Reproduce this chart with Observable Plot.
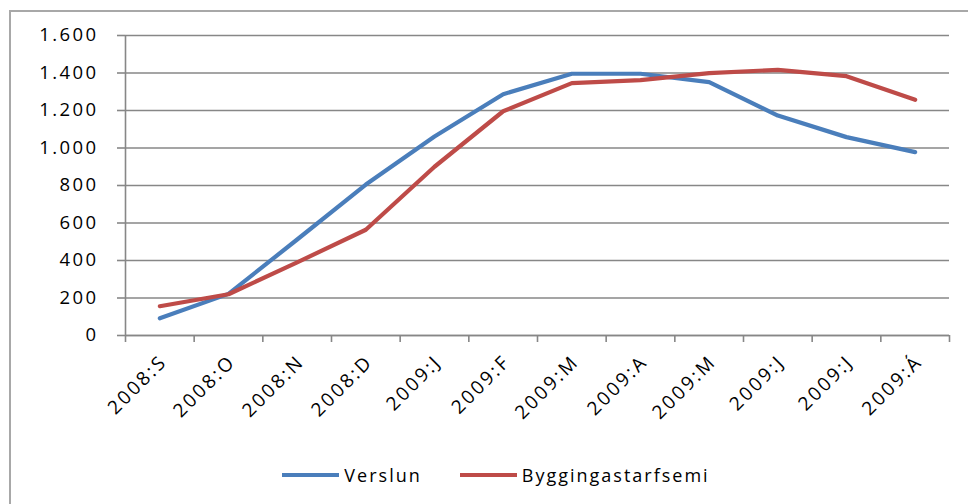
<!DOCTYPE html>
<html>
<head>
<meta charset="utf-8">
<script src="https://cdn.jsdelivr.net/npm/d3@7"></script>
<script src="https://cdn.jsdelivr.net/npm/@observablehq/plot@0.6"></script>
<style>
  html, body { margin: 0; padding: 0; background: #fff; }
  #wrap { position: relative; width: 968px; height: 504px; overflow: hidden; }
  #border { position: absolute; left: 9px; top: 10px; width: 980px; height: 520px;
            border-left: 2px solid #a8a8a8; border-top: 2px solid #a8a8a8; box-sizing: border-box; }
  #chart { position: absolute; left: 0; top: 0; }
  #chart svg text { font-family: "Open Sans", sans-serif; fill: #000; }
  #chart svg .yax text { font-size: 18.5px; letter-spacing: 2.4px; }
  #chart svg .xlab text { font-size: 19px; letter-spacing: 2.6px; }
  #legend { position: absolute; top: 463px; left: 24px; width: 944px; display: flex; justify-content: center;
            font-family: "Open Sans", sans-serif; font-size: 18px; letter-spacing: 2px; color: #000; }
  .item { display: flex; align-items: center; margin: 0 19px; }
  .sw { width: 57px; height: 4px; margin-right: 5px; }
</style>
</head>
<body>
<div id="wrap">
  <div id="border"></div>
  <div id="chart"></div>
  <div id="legend"></div>
</div>
<script>
const categories = ["2008:S","2008:O","2008:N","2008:D","2009:J","2009:F","2009:M","2009:A","2009:M","2009:J","2009:J","2009:Á"];
const verslun = [92, 222, 512, 805, 1061, 1287, 1396, 1396, 1351, 1173, 1058, 978];
const bygging = [156, 220, 390, 564, 900, 1196, 1346, 1362, 1399, 1417, 1383, 1257];
const seriesNames = ["Verslun", "Byggingastarfsemi"];
const seriesColors = ["#4a7ebb", "#be4b48"];
const yTicks = [0, 200, 400, 600, 800, 1000, 1200, 1400, 1600];

const rows = [];
[verslun, bygging].forEach((vals, s) => vals.forEach((v, i) => rows.push({i, pos: i + 0.5, value: v, series: seriesNames[s]})));

const locale = d3.formatLocale({decimal: ",", thousands: ".", grouping: [3], currency: ["", ""]});
const fmt = locale.format(",");
const boundaries = d3.range(categories.length + 1);
const centers = categories.map((c, i) => i + 0.5);

const chart = Plot.plot({
  width: 968,
  height: 504,
  marginLeft: 125,
  marginRight: 19,
  marginTop: 35,
  marginBottom: 169,
  style: {fontFamily: "'Open Sans', sans-serif", fontSize: "18px", color: "#000", background: "transparent"},
  x: {type: "linear", domain: [0, categories.length]},
  y: {domain: [0, 1600]},
  color: {domain: seriesNames, range: seriesColors},
  marks: [
    Plot.gridY(yTicks, {stroke: "#878787", strokeOpacity: 1, strokeWidth: 1.6}),
    Plot.axisY(yTicks, {tickSize: 8, tickPadding: 19, tickFormat: fmt, stroke: "#878787", strokeWidth: 1.6, label: null, className: "yax"}),
    Plot.ruleX([0], {stroke: "#878787", strokeWidth: 1.6}),
    Plot.ruleY([0], {stroke: "#878787", strokeWidth: 1.6}),
    Plot.axisX(boundaries, {tickSize: 7, tickFormat: () => "", stroke: "#878787", strokeWidth: 1.6, label: null}),
    Plot.axisX(centers, {tickSize: 0, tickPadding: 23, dx: 4, tickRotate: -45, tickFormat: (d) => categories[Math.floor(d)], label: null, className: "xlab"}),
    Plot.line(rows, {x: "pos", y: "value", z: "series", stroke: "series", strokeWidth: 4.2, strokeLinejoin: "round", strokeLinecap: "round"})
  ]
});
document.getElementById("chart").appendChild(chart);

const legend = document.getElementById("legend");
seriesNames.forEach((name, k) => {
  const item = document.createElement("div");
  item.className = "item";
  const sw = document.createElement("div");
  sw.className = "sw";
  sw.style.background = seriesColors[k];
  const t = document.createElement("span");
  t.textContent = name;
  item.appendChild(sw);
  item.appendChild(t);
  legend.appendChild(item);
});
</script>
</body>
</html>
